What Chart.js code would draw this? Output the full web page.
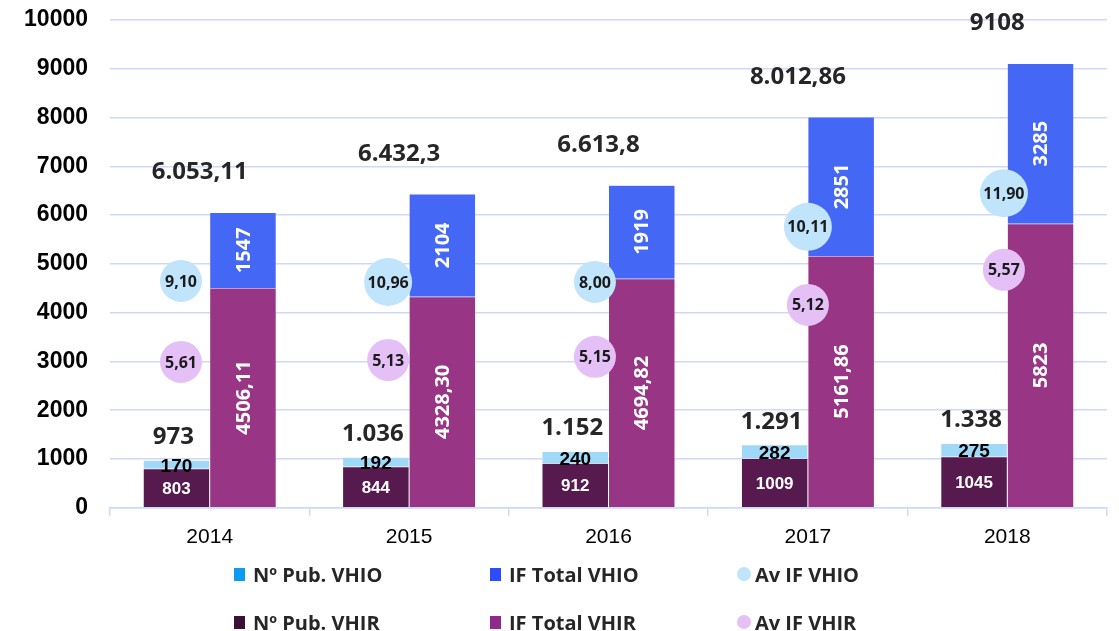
<!DOCTYPE html>
<html>
<head>
<meta charset="utf-8">
<script src="https://cdn.jsdelivr.net/npm/chart.js@4/dist/chart.umd.min.js"></script>
<style>
  html, body { margin: 0; padding: 0; background: #ffffff; }
  #wrap { position: relative; width: 1119px; height: 631px; }
  #legend { position: absolute; left: 0; top: 0; width: 1119px; height: 631px; pointer-events: none;
    font-family: "Open Sans", sans-serif; font-weight: 700; font-size: 20px; color: #262626; }
  .item { position: absolute; display: flex; align-items: center; white-space: nowrap; }
  .sq { width: 11px; height: 13px; margin-right: 8px; }
  .dot { width: 14px; height: 14px; border-radius: 50%; margin-right: 4px; }
</style>
</head>
<body>
<div id="wrap">
  <canvas id="c" width="1119" height="631"></canvas>
  <div id="legend"></div>
</div>
<script>
// ---- data ----
const years = ['2014', '2015', '2016', '2017', '2018'];
const pubVHIR = [803, 844, 912, 1009, 1045];
const pubVHIO = [170, 192, 240, 282, 275];
const ifVHIR = [4506.11, 4328.30, 4694.82, 5161.86, 5823];
const ifVHIO = [1547, 2104, 1919, 2851, 3285];
const pubTotalLabels = ['973', '1.036', '1.152', '1.291', '1.338'];
const ifTotalLabels = ['6.053,11', '6.432,3', '6.613,8', '8.012,86', '9108'];
const avIfVHIO = [9.10, 10.96, 8.00, 10.11, 11.90];
const avIfVHIR = [5.61, 5.13, 5.15, 5.12, 5.57];
// bubble placement in axis units (category index shift, y value)
const bubbleShift = [-0.144, -0.105, -0.068, 0.0, -0.017];
const avVHIOLevel = [4650, 4630, 4630, 5760, 6450];
const avVHIRLevel = [2990, 3030, 3095, 4160, 4880];
const yTicks = [0, 1000, 2000, 3000, 4000, 5000, 6000, 7000, 8000, 9000, 10000];

const fmtBar = v => Number.isInteger(v) ? String(v) : v.toFixed(2).replace('.', ',');
const fmtAv = v => v.toFixed(2).replace('.', ',');

const C = {
  pubVHIO: '#a0d9f8', ifVHIO: '#4567f6', pubVHIR: '#561a4f', ifVHIR: '#983585',
  avVHIO: '#bfe4fb', avVHIR: '#e5c0f7'
};
const L = {
  pubVHIO: '#0a9cf5', ifVHIO: '#2d4cff', pubVHIR: '#3b1236', ifVHIR: '#8e2a8c',
  avVHIO: '#bfe4fb', avVHIR: '#e5c0f7'
};

const bubbleRadius = ctx => {
  const ds = ctx.chart.data.datasets[ctx.datasetIndex];
  const v = ds.values ? ds.values[ctx.dataIndex] : 0;
  return fmtAv(v).length >= 5 ? 24 : 21;
};

const labelsPlugin = {
  id: 'labels',
  afterDatasetsDraw(chart) {
    const ctx = chart.ctx;
    const metas = {};
    chart.data.datasets.forEach((ds, i) => { metas[ds.key] = chart.getDatasetMeta(i); });
    ctx.save();
    ctx.textAlign = 'center';
    ctx.textBaseline = 'middle';
    years.forEach((y, i) => {
      let b = metas.pubVHIR.data[i];
      ctx.fillStyle = '#ffffff';
      ctx.font = 'bold 17px "Liberation Sans", Arial, sans-serif';
      ctx.fillText(String(pubVHIR[i]), b.x, (b.y + b.base) / 2 + 1);
      b = metas.pubVHIO.data[i];
      ctx.fillStyle = '#000000';
      ctx.font = 'bold 19px "Liberation Sans", Arial, sans-serif';
      ctx.fillText(String(pubVHIO[i]), b.x, (b.y + b.base) / 2 + 2);
      ctx.fillStyle = '#262626';
      ctx.font = 'bold 24px "Open Sans", sans-serif';
      ctx.fillText(pubTotalLabels[i], b.x - 3, b.y - 23);
      ctx.font = 'bold 20px "Open Sans", sans-serif';
      ctx.fillStyle = '#ffffff';
      [['ifVHIR', ifVHIR], ['ifVHIO', ifVHIO]].forEach(([k, arr]) => {
        const e = metas[k].data[i];
        ctx.save();
        ctx.translate(e.x, (e.y + e.base) / 2);
        ctx.rotate(-Math.PI / 2);
        ctx.fillText(fmtBar(arr[i]), 0, 1);
        ctx.restore();
      });
      const top = metas.ifVHIO.data[i];
      ctx.fillStyle = '#262626';
      ctx.font = 'bold 24px "Open Sans", sans-serif';
      const cx = chart.scales.x.getPixelForValue(i);
      ctx.fillText(ifTotalLabels[i], cx - 10, top.y - 40);
      ctx.fillStyle = '#1a1a1a';
      ctx.font = 'bold 16px "Open Sans", sans-serif';
      [['avVHIO', avIfVHIO], ['avVHIR', avIfVHIR]].forEach(([k, arr]) => {
        const e = metas[k].data[i];
        ctx.fillText(fmtAv(arr[i]), e.x, e.y + 1);
      });
    });
    ctx.restore();
  }
};

const barDs = (key, label, values, stack) => ({
  key, type: 'bar', label, data: values, stack, backgroundColor: C[key],
  borderColor: 'rgba(255,255,255,0.35)', borderWidth: 0.5,
  categoryPercentage: 0.667, barPercentage: 1.0
});
const bubbleDs = (key, label, values, levels) => ({
  key, type: 'bubble', label, order: -1, values, parsing: false, stack: key,
  data: years.map((y, i) => ({ x: i + bubbleShift[i], y: levels[i] })),
  backgroundColor: C[key], borderWidth: 0, radius: bubbleRadius, hoverRadius: 0
});

const data = {
  labels: years,
  datasets: [
    bubbleDs('avVHIO', 'Av IF VHIO', avIfVHIO, avVHIOLevel),
    bubbleDs('avVHIR', 'Av IF VHIR', avIfVHIR, avVHIRLevel),
    barDs('pubVHIR', 'Nº Pub. VHIR', pubVHIR, 'pub'),
    barDs('pubVHIO', 'Nº Pub. VHIO', pubVHIO, 'pub'),
    barDs('ifVHIR', 'IF Total VHIR', ifVHIR, 'if'),
    barDs('ifVHIO', 'IF Total VHIO', ifVHIO, 'if')
  ]
};

const zeroSide = s => {
  s.paddingLeft = 0; s.paddingRight = 0;
};

new Chart(document.getElementById('c'), {
  data,
  options: {
    responsive: false,
    animation: false,
    events: [],
    layout: { autoPadding: false, padding: { left: 0, right: 12, top: 20, bottom: 72 } },
    plugins: { legend: { display: false }, tooltip: { enabled: false } },
    scales: {
      x: {
        type: 'category', stacked: true, offset: true, min: years[0], max: years[years.length - 1],
        afterFit: zeroSide,
        grid: { display: true, drawOnChartArea: false, drawTicks: true, tickLength: 8, color: '#d0d8f7', lineWidth: 1.5, offset: true },
        border: { display: true, color: '#d0d8f7', width: 1.5 },
        ticks: { color: '#000000', font: { family: '"Liberation Sans", Arial, sans-serif', size: 21 }, padding: 9 }
      },
      y: {
        stacked: true, min: 0, max: 10000,
        afterBuildTicks: s => { s.ticks = yTicks.map(v => ({ value: v })); },
        afterFit: s => { s.width = 110; s.paddingTop = 0; s.paddingBottom = 0; zeroSide(s); },
        grid: { color: '#d0d8f7', lineWidth: 1.5, drawTicks: false },
        border: { display: false },
        ticks: { color: '#000000', padding: 22, callback: v => String(v),
          font: { family: '"Liberation Sans", Arial, sans-serif', size: 23, weight: 'bold' } }
      }
    }
  },
  plugins: [labelsPlugin]
});

// ---- HTML legend (3 columns x 2 rows) ----
const legendItems = [
  { text: 'Nº Pub. VHIO', color: L.pubVHIO, shape: 'sq', col: 0, row: 0 },
  { text: 'IF Total VHIO', color: L.ifVHIO, shape: 'sq', col: 1, row: 0 },
  { text: 'Av IF VHIO', color: L.avVHIO, shape: 'dot', col: 2, row: 0 },
  { text: 'Nº Pub. VHIR', color: L.pubVHIR, shape: 'sq', col: 0, row: 1 },
  { text: 'IF Total VHIR', color: L.ifVHIR, shape: 'sq', col: 1, row: 1 },
  { text: 'Av IF VHIR', color: L.avVHIR, shape: 'dot', col: 2, row: 1 }
];
const colX = [234, 490, 737];
const rowY = [574, 622];
const lg = document.getElementById('legend');
legendItems.forEach(it => {
  const d = document.createElement('div');
  d.className = 'item';
  d.style.left = colX[it.col] + 'px';
  d.style.top = (rowY[it.row] - 14) + 'px';
  d.style.height = '28px';
  const m = document.createElement('span');
  m.className = it.shape;
  m.style.background = it.color;
  const t = document.createElement('span');
  t.textContent = it.text;
  d.appendChild(m); d.appendChild(t);
  lg.appendChild(d);
});
</script>
</body>
</html>
